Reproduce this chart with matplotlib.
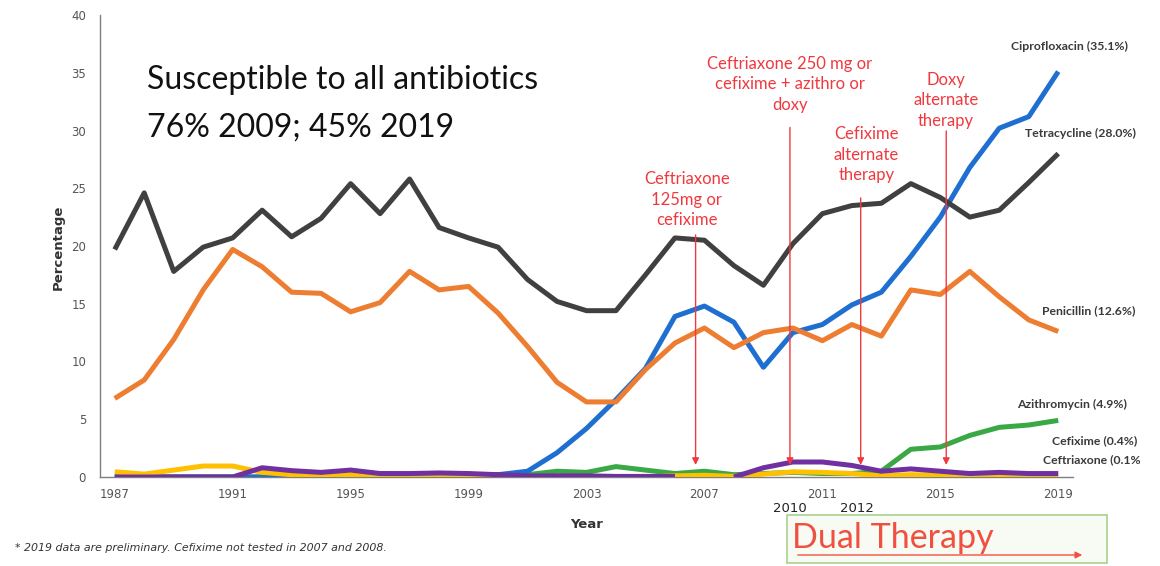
import numpy as np
import matplotlib.pyplot as plt
from matplotlib.patches import Rectangle

years = np.arange(1987, 2020)

# values (percent)
tetracycline = [19.7, 24.6, 17.8, 19.9, 20.7, 23.1, 20.8, 22.4, 25.4, 22.8, 25.8,
                21.6, 20.7, 19.9, 17.1, 15.2, 14.4, 14.4, 17.5, 20.7, 20.5, 18.3,
                16.6, 20.2, 22.8, 23.5, 23.7, 25.4, 24.2, 22.5, 23.1, 25.5, 28.0]
penicillin = [6.8, 8.4, 11.9, 16.2, 19.7, 18.2, 16.0, 15.9, 14.3, 15.1, 17.8,
              16.2, 16.5, 14.2, 11.3, 8.2, 6.5, 6.5, 9.3, 11.6, 12.9, 11.2,
              12.5, 12.9, 11.8, 13.2, 12.2, 16.2, 15.8, 17.8, 15.6, 13.6, 12.6]
ciprofloxacin = [0, 0, 0, 0, 0, 0, 0, 0, 0, 0, 0,
                 0, 0.1, 0.2, 0.5, 2.1, 4.2, 6.7, 9.4, 13.9, 14.8, 13.4,
                 9.5, 12.5, 13.2, 14.9, 16.0, 19.1, 22.5, 26.8, 30.2, 31.2, 35.1]
azithromycin = [0, 0, 0, 0, 0, 0, 0, 0, 0.1, 0.3, 0.2,
                0.2, 0.2, 0.2, 0.2, 0.5, 0.4, 0.9, 0.6, 0.3, 0.5, 0.2,
                0.3, 0.4, 0.3, 0.3, 0.5, 2.4, 2.6, 3.6, 4.3, 4.5, 4.9]
cefixime = [0.45, 0.25, 0.6, 0.95, 0.95, 0.4, 0.2, 0.1, 0.2, 0.05, 0,
            0, 0, 0, 0, 0, 0, 0, 0, 0.1, 0.15, 0.05,
            0.25, 0.45, 0.4, 0.3, 0.1, 0.2, 0.15, 0.1, 0.1, 0.1, 0.1]
ceftriaxone = [0, 0, 0, 0, 0, 0.8, 0.55, 0.4, 0.6, 0.3, 0.3,
               0.35, 0.3, 0.2, 0.1, 0.1, 0.1, 0.05, 0.05, 0.05, np.nan, 0,
               0.8, 1.3, 1.3, 1.0, 0.5, 0.7, 0.5, 0.3, 0.4, 0.3, 0.3]

series = [
    (azithromycin, '#3aa845'),
    (ciprofloxacin, '#1f6fd1'),
    (penicillin, '#ed7d31'),
    (tetracycline, '#404040'),
    (cefixime, '#ffc000'),
    (ceftriaxone, '#7030a0'),
]

labels = [('Ciprofloxacin (35.1%)', 1128, 46),
          ('Tetracycline (28.0%)', 1136, 133),
          ('Penicillin (12.6%)', 1135, 311),
          ('Azithromycin (4.9%)', 1127, 404),
          ('Cefixime (0.4%)', 1137, 441),
          ('Ceftriaxone (0.1%', 1141, 460)]

# (text, x of text, y of text middle, arrow x, arrow top)
guidelines = [('Ceftriaxone\n125mg or\ncefixime', 2006.4, 24.0, 2006.7, 21.2),
              ('Ceftriaxone 250 mg or\ncefixime + azithro or\ndoxy', 2009.9, 34.0, 2009.9, 30.5),
              ('Cefixime\nalternate\ntherapy', 2012.5, 27.9, 2012.3, 24.4),
              ('Doxy\nalternate\ntherapy', 2015.2, 32.6, 2015.2, 30.2)]

W, H = 1160, 566


def px(x, y):
    return x / W, 1 - y / H


fig = plt.figure(figsize=(11.6, 5.66), dpi=100)
ax = fig.add_axes([100 / W, 89 / H, 973 / W, 462 / H])

for vals, col in series:
    ax.plot(years, vals, color=col, linewidth=3.6, solid_capstyle='butt', zorder=3)

ax.set_xlim(1986.5, 2019.5)
ax.set_ylim(0, 40)
ax.set_yticks(np.arange(0, 41, 5))
ax.set_xticks([1987, 1991, 1995, 1999, 2003, 2007, 2011, 2015, 2019])
ax.tick_params(length=0, labelsize=8.5, labelcolor='#555555', pad=8)
ax.tick_params(axis='y', pad=10)
for s in ['top', 'right']:
    ax.spines[s].set_visible(False)
for s in ['left', 'bottom']:
    ax.spines[s].set_color('#7f7f7f')
    ax.spines[s].set_linewidth(1)

ax.text(1988.1, 34.4, 'Susceptible to all antibiotics', fontsize=23, family='Lato',
        va='center', color='#111111')
ax.text(1988.1, 30.3, '76% 2009; 45% 2019', fontsize=23, family='Lato',
        va='center', color='#111111')

for txt, tx, ty, axx, top in guidelines:
    ax.text(tx, ty, txt, ha='center', va='center', fontsize=12, family='Lato',
            color='#f0393f', linespacing=1.35, zorder=4)
    ax.annotate('', xy=(axx, 0.8), xytext=(axx, top),
                arrowprops=dict(arrowstyle='-|>', color='#f0393f', lw=1,
                                mutation_scale=10), zorder=4)

for txt, x, y in labels:
    fig.text(*px(x, y), txt, ha='right', va='center', fontsize=8.8,
             fontweight='bold', family='Lato', color='#3a3a3a')

fig.text(*px(790, 508), '2010', ha='center', va='center', fontsize=9.5, color='#222222')
fig.text(*px(857, 508), '2012', ha='center', va='center', fontsize=9.5, color='#222222')

fig.text(*px(587, 525), 'Year', ha='center', va='center', fontsize=9.5,
         fontweight='bold', color='#333333')
fig.text(*px(58, 247), 'Percentage', ha='center', va='center', fontsize=9.5,
         fontweight='bold', rotation=90, color='#333333')
fig.text(*px(15, 548), '* 2019 data are preliminary. Cefixime not tested in 2007 and 2008.',
         ha='left', va='center', fontsize=7.9, style='italic', color='#333333')

# dual therapy box
x0, y0 = px(787, 563)
fig.patches.append(Rectangle((x0, y0), 320 / W, 48 / H, transform=fig.transFigure,
                             facecolor='#f7fbf3', edgecolor='#a9d18e', linewidth=1.2))
fig.text(*px(792, 538), 'Dual Therapy', ha='left', va='center', fontsize=24.5,
         family='Lato', color='#f0503f')
fig.patches.append(plt.matplotlib.patches.FancyArrowPatch(
    px(795, 555), px(1085, 555), transform=fig.transFigure, arrowstyle='-|>',
    color='#f0503f', lw=1, mutation_scale=10))

fig.savefig('out.png', dpi=100, facecolor='white')
